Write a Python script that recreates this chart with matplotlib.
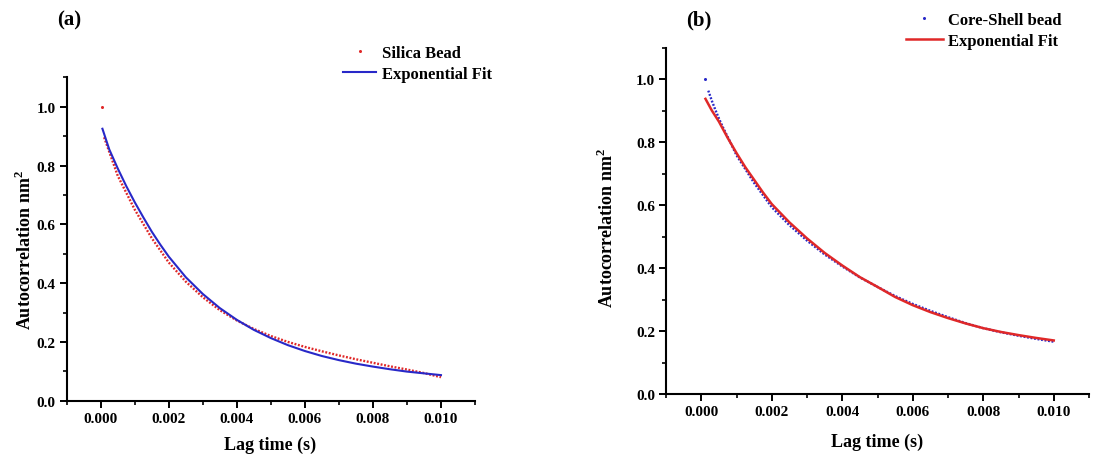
import matplotlib
matplotlib.use('Agg')
import matplotlib.pyplot as plt
from matplotlib.ticker import MultipleLocator, FormatStrFormatter

plt.rcParams['font.family'] = ['Liberation Serif', 'DejaVu Serif']
plt.rcParams['font.weight'] = 'bold'
plt.rcParams['mathtext.fontset'] = 'custom'
plt.rcParams['mathtext.rm'] = 'Liberation Serif:bold'
plt.rcParams['mathtext.bf'] = 'Liberation Serif:bold'

RED = '#e02828'
BLUE = '#2828c8'

# (a) silica bead: measured autocorrelation (red dots) and exponential fit (blue)
silica_first = (0.00005, 1.0)
silica_lag = [0.0001, 0.0005, 0.001, 0.0015, 0.002, 0.0025, 0.003, 0.0035, 0.004, 0.0045,
              0.005, 0.0055, 0.006, 0.0065, 0.007, 0.0075, 0.008, 0.0085, 0.009, 0.0095, 0.01]
silica_acf = [0.896, 0.765, 0.65, 0.553, 0.47, 0.405, 0.352, 0.308, 0.273, 0.244,
              0.22, 0.2, 0.183, 0.168, 0.154, 0.141, 0.129, 0.117, 0.106, 0.094, 0.08]
fit_a_lag = [0.00005, 0.00025, 0.0005, 0.00075, 0.001, 0.00125, 0.0015, 0.00175, 0.002, 0.0025,
             0.003, 0.0035, 0.004, 0.0045, 0.005, 0.0055, 0.006, 0.0065, 0.007, 0.0075,
             0.008, 0.0085, 0.009, 0.0095, 0.01]
fit_a = [0.925, 0.855, 0.79, 0.73, 0.675, 0.624, 0.575, 0.531, 0.49, 0.42,
         0.363, 0.315, 0.275, 0.241, 0.213, 0.189, 0.169, 0.152, 0.138, 0.126,
         0.116, 0.107, 0.099, 0.093, 0.087]

# (b) core-shell bead: measured autocorrelation (blue dots) and exponential fit (red)
core_first = (0.00012, 1.0)
core_lag = [0.0002, 0.0003, 0.0004, 0.0005, 0.0006, 0.0008, 0.001, 0.0015, 0.002, 0.0025,
            0.003, 0.0035, 0.004, 0.0045, 0.005, 0.0055, 0.006, 0.0065, 0.007, 0.0075,
            0.008, 0.0085, 0.009, 0.0095, 0.01]
core_acf = [0.963, 0.931, 0.902, 0.875, 0.85, 0.805, 0.758, 0.67, 0.593, 0.536,
            0.487, 0.443, 0.405, 0.37, 0.34, 0.311, 0.286, 0.264, 0.244, 0.225,
            0.209, 0.196, 0.185, 0.175, 0.166]
fit_b_lag = [0.00012, 0.0003, 0.0005, 0.00075, 0.001, 0.00125, 0.0015, 0.00175, 0.002, 0.0025,
             0.003, 0.0035, 0.004, 0.0045, 0.005, 0.0055, 0.006, 0.0065, 0.007, 0.0075,
             0.008, 0.0085, 0.009, 0.0095, 0.01]
fit_b = [0.937, 0.9, 0.865, 0.813, 0.765, 0.72, 0.68, 0.64, 0.603, 0.545,
         0.494, 0.448, 0.408, 0.371, 0.34, 0.308, 0.282, 0.26, 0.241, 0.224,
         0.209, 0.197, 0.187, 0.178, 0.17]

W, H = 1100, 456
fig = plt.figure(figsize=(W / 100, H / 100), dpi=100)


def px_axes(left, top, right, bottom):
    return fig.add_axes([left / W, 1 - bottom / H, (right - left) / W, (bottom - top) / H])


def style(ax):
    ax.set_xlim(-0.001, 0.011)
    ax.set_ylim(0, 1.1)
    ax.spines['top'].set_visible(False)
    ax.spines['right'].set_visible(False)
    for s in ('left', 'bottom'):
        ax.spines[s].set_linewidth(1.5)
    ax.xaxis.set_major_locator(MultipleLocator(0.002))
    ax.xaxis.set_minor_locator(MultipleLocator(0.001))
    ax.yaxis.set_major_locator(MultipleLocator(0.2))
    ax.yaxis.set_minor_locator(MultipleLocator(0.1))
    ax.xaxis.set_major_formatter(FormatStrFormatter('%.3f'))
    ax.yaxis.set_major_formatter(FormatStrFormatter('%.1f'))
    ax.tick_params(which='major', direction='out', length=5, width=1.4, labelsize=11, pad=3)
    ax.tick_params(which='minor', direction='out', length=3, width=1.2)
    for lab in ax.get_xticklabels() + ax.get_yticklabels():
        lab.set_fontweight('bold')


dots = (0, (0.8, 0.7))
leg_kw = dict(bbox_transform=fig.transFigure, loc='upper left', frameon=False, borderpad=0,
              borderaxespad=0, handletextpad=0.35, labelspacing=0.3, prop={'size': 12, 'weight': 'bold'})

# panel (a)
ax1 = px_axes(66.7, 78.3, 475, 401.7)
ax1.plot([silica_first[0]], [silica_first[1]], 'o', ms=2.2, color=RED, mec='none', label='Silica Bead')
ax1.plot(silica_lag, silica_acf, color=RED, lw=1.7, linestyle=dots)
ax1.plot(fit_a_lag, fit_a, color=BLUE, lw=1.5, label='Exponential Fit')
style(ax1)
ax1.legend(bbox_to_anchor=(343 / W, 1 - 46 / H), handlelength=2.0, **leg_kw)

# panel (b)
ax2 = px_axes(666, 48.5, 1089, 395)
ax2.plot([core_first[0]], [core_first[1]], 'o', ms=2.2, color=BLUE, mec='none', label='Core-Shell bead')
ax2.plot(core_lag, core_acf, color=BLUE, lw=1.7, linestyle=dots)
ax2.plot(fit_b_lag, fit_b, color=RED, lw=1.8, label='Exponential Fit')
style(ax2)
ax2.legend(bbox_to_anchor=(906 / W, 1 - 13 / H), handlelength=2.2, **leg_kw)

ylab = 'Autocorrelation nm$^\\mathbf{2}$'
fig.text(25 / W, 1 - 250 / H, ylab, rotation=90, ha='center', va='center', fontsize=13, fontweight='bold')
fig.text(607 / W, 1 - 228 / H, ylab, rotation=90, ha='center', va='center', fontsize=13, fontweight='bold')
fig.text(270 / W, 1 - 445 / H, 'Lag time (s)', ha='center', va='center', fontsize=13, fontweight='bold')
fig.text(877 / W, 1 - 442 / H, 'Lag time (s)', ha='center', va='center', fontsize=13, fontweight='bold')

fig.text(69 / W, 1 - 20 / H, '(a)', ha='center', va='center', fontsize=15, fontweight='bold')
fig.text(699 / W, 1 - 20 / H, '(b)', ha='center', va='center', fontsize=15, fontweight='bold')

fig.savefig('out.png', dpi=100)
